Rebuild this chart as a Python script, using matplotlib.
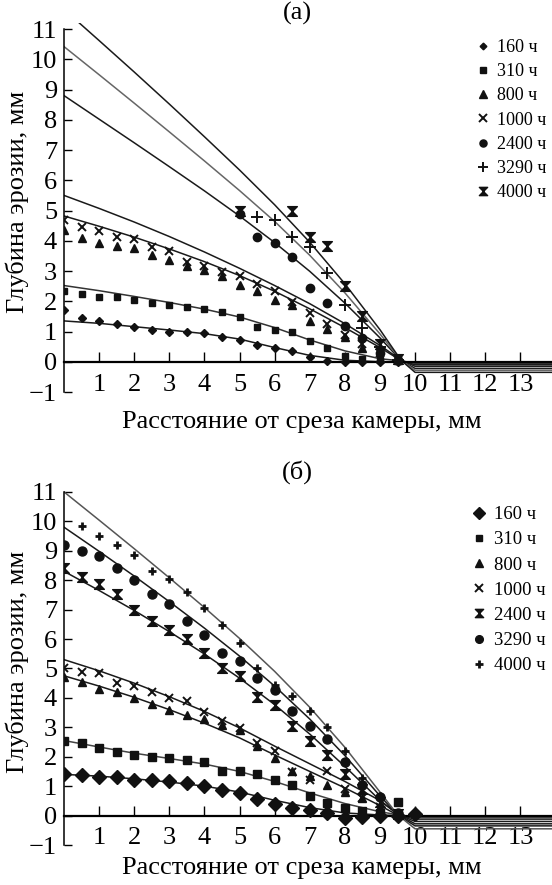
import matplotlib.pyplot as plt
from matplotlib.path import Path
from matplotlib.lines import Line2D

plt.rcParams['font.family'] = ['Liberation Serif', 'DejaVu Serif']
plt.rcParams['axes.unicode_minus'] = True

# -------------------- DATA --------------------
labels = ["160 ч", "310 ч", "800 ч", "1000 ч", "2400 ч", "3290 ч", "4000 ч"]

x_pts = [0, 0.5, 1, 1.5, 2, 2.5, 3, 3.5, 4, 4.5, 5, 5.5, 6, 6.5, 7, 7.5, 8, 8.5, 9, 9.5]

# panel (a): measured points
a_160 = [1.7, 1.45, 1.35, 1.25, 1.15, 1.05, 1.0, 0.97, 0.95, 0.83, 0.73, 0.55, 0.46, 0.34, 0.17, 0.04, 0.0, 0.0, 0.0, 0.0]
a_310 = [2.35, 2.25, 2.15, 2.13, 2.05, 1.95, 1.88, 1.82, 1.73, 1.66, 1.47, 1.15, 1.05, 1.0, 0.68, 0.46, 0.2, 0.1, 0.05, 0.02]
a_800 = [4.36, 4.09, 3.92, 3.83, 3.76, 3.54, 3.35, 3.15, 3.04, 2.85, 2.54, 2.34, 2.04, 1.88, 1.35, 1.08, 0.83, 0.44, 0.12, 0.05]
a_1000 = [4.7, 4.44, 4.33, 4.11, 4.07, 3.81, 3.67, 3.31, 3.15, 2.98, 2.85, 2.56, 2.34, 1.97, 1.6, 1.25, 0.9, 0.6, 0.3, 0.05]
a_2400_x = [5, 5.5, 6, 6.5, 7, 7.5, 8, 8.5, 9, 9.5]
a_2400 = [4.9, 4.14, 3.93, 3.45, 2.43, 1.95, 1.19, 0.77, 0.3, 0.05]
a_3290_x = [5.5, 6, 6.5, 7, 7.5, 8, 8.5, 9, 9.5]
a_3290 = [4.78, 4.7, 4.14, 3.78, 2.93, 1.88, 1.1, 0.5, 0.05]
a_4000_x = [5, 6.5, 7, 7.5, 8, 8.5, 9, 9.5]
a_4000 = [5.0, 4.97, 4.12, 3.84, 2.5, 1.5, 0.6, 0.1]

# panel (a): fitted curves
fit_x_a = [0, 1, 2, 3, 4, 5, 6, 7, 8, 9, 9.6, 10, 14]
fa_160 = [1.35, 1.27, 1.16, 1.05, 0.93, 0.75, 0.47, 0.21, 0.05, 0.0, 0.0, -0.02, -0.02]
fa_310 = [2.52, 2.35, 2.16, 1.96, 1.74, 1.48, 1.13, 0.72, 0.36, 0.1, 0.03, -0.05, -0.05]
fa_800 = [4.82, 4.48, 4.12, 3.73, 3.31, 2.85, 2.33, 1.75, 1.13, 0.47, 0.04, -0.1, -0.1]
fa_1000 = [5.5, 5.07, 4.62, 4.14, 3.63, 3.09, 2.52, 1.92, 1.26, 0.54, 0.06, -0.15, -0.15]
fa_2400 = [8.8, 8.02, 7.24, 6.45, 5.65, 4.82, 3.94, 2.99, 1.94, 0.79, 0.04, -0.22, -0.22]
fa_3290 = [10.42, 9.49, 8.55, 7.6, 6.64, 5.66, 4.64, 3.52, 2.28, 0.92, 0.05, -0.28, -0.28]
fa_4000 = [11.65, 10.62, 9.58, 8.52, 7.44, 6.34, 5.19, 3.95, 2.58, 1.06, 0.05, -0.35, -0.35]

# panel (b): measured points
b_160_x = [0, 0.5, 1, 1.5, 2, 2.5, 3, 3.5, 4, 4.5, 5, 5.5, 6, 6.5, 7, 7.5, 8, 8.5, 9, 9.5, 10]
b_160 = [1.4, 1.37, 1.32, 1.32, 1.22, 1.22, 1.17, 1.09, 1.0, 0.86, 0.78, 0.58, 0.4, 0.26, 0.18, 0.08, -0.08, -0.05, 0.0, 0.0, 0.05]
b_310 = [2.52, 2.46, 2.29, 2.15, 2.06, 2.0, 1.97, 1.89, 1.83, 1.51, 1.51, 1.4, 1.2, 1.05, 0.65, 0.43, 0.25, 0.17, 0.1, 0.45]
b_800 = [4.71, 4.54, 4.31, 4.2, 4.0, 3.8, 3.6, 3.43, 3.29, 3.09, 2.9, 2.38, 1.97, 1.51, 1.35, 1.05, 0.8, 0.6, 0.3, 0.05]
b_1000 = [5.03, 4.89, 4.83, 4.52, 4.4, 4.21, 4.0, 3.91, 3.52, 3.22, 2.97, 2.46, 2.2, 1.49, 1.2, 1.51, 0.91, 0.6, 0.3, 0.05]
b_2400 = [8.4, 8.1, 7.87, 7.52, 6.98, 6.61, 6.29, 6.0, 5.51, 5.03, 4.75, 4.02, 3.75, 3.03, 2.55, 2.05, 1.4, 0.9, 0.45, 0.05]
b_3290 = [9.2, 9.0, 8.83, 8.4, 8.0, 7.52, 7.2, 6.61, 6.15, 5.52, 5.24, 4.66, 4.27, 3.55, 3.05, 2.61, 1.83, 1.05, 0.63, 0.1]
b_4000 = [9.83, 9.49, 9.2, 8.86, 8.32, 8.03, 7.6, 7.06, 6.46, 5.87, 5.0, 4.45, 4.06, 3.54, 3.0, 2.2, 1.26, 0.66, 0.1]

# panel (b): fitted curves
fit_x_b = [0, 1, 2, 3, 4, 5, 6, 7, 8, 9, 9.5, 10, 14]
fb_160 = [1.4, 1.34, 1.25, 1.14, 1.0, 0.8, 0.52, 0.27, 0.09, 0.02, 0.0, -0.02, -0.02]
fb_310 = [2.55, 2.33, 2.12, 1.94, 1.75, 1.5, 1.16, 0.77, 0.41, 0.13, 0.03, -0.06, -0.06]
fb_800 = [4.75, 4.4, 4.02, 3.6, 3.14, 2.64, 2.06, 1.5, 0.94, 0.34, 0.02, -0.12, -0.12]
fb_1000 = [5.3, 4.92, 4.5, 4.04, 3.54, 2.98, 2.36, 1.76, 1.16, 0.51, 0.05, -0.2, -0.2]
fb_2400 = [8.3, 7.65, 6.97, 6.25, 5.49, 4.67, 3.77, 2.77, 1.67, 0.52, 0.05, -0.28, -0.28]
fb_3290 = [9.8, 8.98, 8.14, 7.27, 6.37, 5.42, 4.4, 3.28, 2.04, 0.67, 0.03, -0.35, -0.35]
fb_4000 = [11.0, 10.04, 9.07, 8.08, 7.07, 6.02, 4.9, 3.68, 2.32, 0.8, 0.03, -0.45, -0.45]

# -------------------- MARKERS --------------------
hourglass = Path([(-1, 1), (1, 1), (-1, -1), (1, -1), (-1, 1)],
                 [Path.MOVETO, Path.LINETO, Path.LINETO, Path.LINETO, Path.CLOSEPOLY])

# (marker, size, edge width) per series
mk_a = [("D", 4, 1), ("s", 5, 1), ("^", 6, 1), ("x", 6, 1.4),
        ("o", 6, 1), ("+", 9, 1.4), (hourglass, 7, 1)]
mk_b = [("D", 7.5, 1), ("s", 5.5, 1), ("^", 6, 1), ("x", 6, 1.4),
        (hourglass, 7, 1), ("o", 6.5, 1), ("+", 6, 2)]

pts_a = [(x_pts, a_160), (x_pts, a_310), (x_pts, a_800), (x_pts, a_1000),
         (a_2400_x, a_2400), (a_3290_x, a_3290), (a_4000_x, a_4000)]
pts_b = [(b_160_x, b_160), (x_pts, b_310), (x_pts, b_800), (x_pts, b_1000),
         (x_pts, b_2400), (x_pts, b_3290), (x_pts[1:], b_4000)]
fits_a = [fa_160, fa_310, fa_800, fa_1000, fa_2400, fa_3290, fa_4000]
fits_b = [fb_160, fb_310, fb_800, fb_1000, fb_2400, fb_3290, fb_4000]
line_col_a = ["#1a1a1a", "#333333", "#1a1a1a", "#1a1a1a", "#1a1a1a", "#666666", "#1a1a1a"]
line_col_b = ["#1a1a1a", "#444444", "#1a1a1a", "#1a1a1a", "#1a1a1a", "#1a1a1a", "#555555"]

FS = 19
W, H = 552, 885
fig = plt.figure(figsize=(W / 100, H / 100), dpi=100)


def draw_panel(ax, pts, fit_x, fits, markers, colors, leg_xy, leg_fs, leg_sp):
    for f, col in zip(fits, colors):
        ax.plot(fit_x, f, color=col, lw=1.1, zorder=2)
    handles = []
    for (px, py), (m, s, ew), lab in zip(pts, markers, labels):
        ax.plot(px, py, ls="none", marker=m, ms=s, mew=ew, color="#111111",
                mec="#111111", zorder=3)
        handles.append(Line2D([], [], ls="none", marker=m, ms=s * 0.85, mew=ew,
                              color="#111111", label=lab))
    ax.legend(handles=handles, loc="upper left", bbox_to_anchor=leg_xy,
              bbox_transform=fig.transFigure, frameon=False, fontsize=leg_fs,
              handlelength=1.0, handletextpad=0.3, labelspacing=leg_sp,
              borderpad=0, borderaxespad=0)

    ax.set_xlim(0, 13.9)
    ax.set_ylim(-1, 11.2)
    ax.spines["top"].set_visible(False)
    ax.spines["right"].set_visible(False)
    ax.spines["left"].set_bounds(-1, 11)
    ax.spines["bottom"].set_position(("data", 0))
    ax.spines["left"].set_linewidth(1.1)
    ax.spines["bottom"].set_linewidth(1.6)
    ax.set_xticks(range(1, 14))
    ax.set_yticks(range(-1, 12))
    ax.tick_params(axis="both", direction="in", labelsize=FS, width=1.0)
    ax.tick_params(axis="x", length=7, pad=8.5)
    ax.tick_params(axis="y", length=6, pad=5)
    ax.patch.set_alpha(0)


# -------------------- PANEL (a) --------------------
ax1 = fig.add_axes([64 / W, 1 - 392 / H, 488 / W, 369 / H])
draw_panel(ax1, pts_a, fit_x_a, fits_a, mk_a, line_col_a, (474 / W, 1 - 39 / H), 13, 0.4)
fig.text(297 / W, 1 - 13 / H, "(а)", ha="center", va="center", fontsize=FS)
fig.text(17 / W, 1 - 202 / H, "Глубина эрозии, мм", rotation=90,
         ha="center", va="center", fontsize=FS)
fig.text(302 / W, 1 - 422 / H, "Расстояние от среза камеры, мм",
         ha="center", va="center", fontsize=FS)

# -------------------- PANEL (b) --------------------
ax2 = fig.add_axes([64 / W, 1 - 845 / H, 488 / W, 359 / H])
draw_panel(ax2, pts_b, fit_x_b, fits_b, mk_b, line_col_b, (470 / W, 1 - 506 / H), 13.5, 0.43)
fig.text(297 / W, 1 - 472 / H, "(б)", ha="center", va="center", fontsize=FS)
fig.text(17 / W, 1 - 662 / H, "Глубина эрозии, мм", rotation=90,
         ha="center", va="center", fontsize=FS)
fig.text(302 / W, 1 - 868 / H, "Расстояние от среза камеры, мм",
         ha="center", va="center", fontsize=FS)

fig.savefig("out.png", dpi=100)
